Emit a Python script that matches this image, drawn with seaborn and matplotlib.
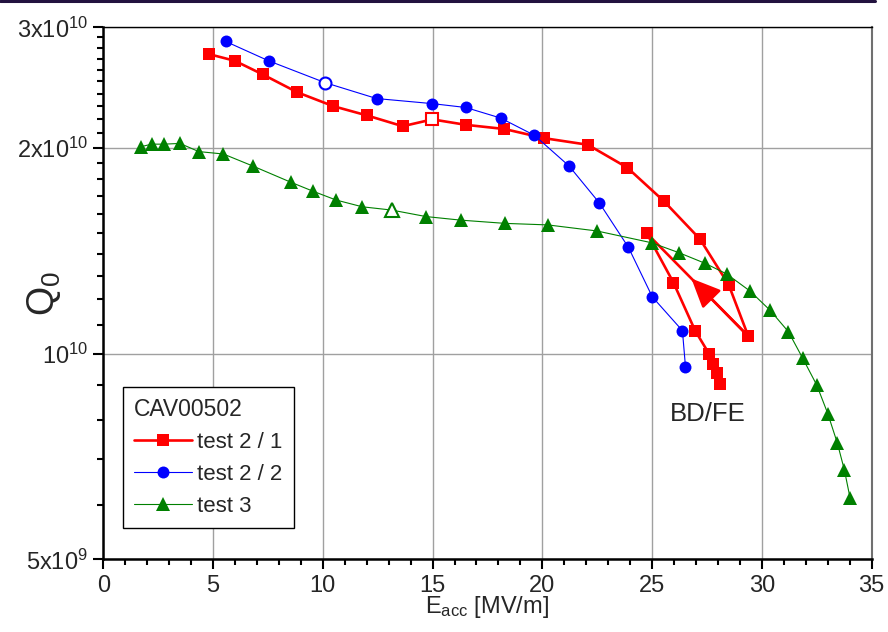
import numpy as np
import matplotlib
matplotlib.use('Agg')
import matplotlib.pyplot as plt
import matplotlib.ticker as mticker
from matplotlib.lines import Line2D
import seaborn as sns

# test 2 / 1 (red squares), open marker at index 7
e_21 = [4.83, 5.99, 7.26, 8.84, 10.48, 12.00, 13.64, 14.99, 16.52, 18.27, 20.09, 22.07,
        23.87, 25.54, 27.18, 28.49, 29.38, 24.75, 25.97, 26.96, 27.61, 27.76, 27.94, 28.10]
q_21 = [2.74e10, 2.68e10, 2.56e10, 2.41e10, 2.30e10, 2.23e10, 2.15e10, 2.20e10, 2.16e10,
        2.13e10, 2.065e10, 2.02e10, 1.87e10, 1.67e10, 1.47e10, 1.26e10, 1.06e10, 1.50e10,
        1.27e10, 1.08e10, 9.97e9, 9.64e9, 9.35e9, 9.01e9]
open_21 = 7
arrow_21 = (16, 17)  # segment carrying the direction arrow

# test 2 / 2 (blue circles), open marker at index 2
e_22 = [5.58, 7.53, 10.10, 12.45, 14.99, 16.51, 18.10, 19.64, 21.22, 22.60, 23.92, 25.01,
        26.38, 26.52]
q_22 = [2.86e10, 2.68e10, 2.49e10, 2.36e10, 2.32e10, 2.29e10, 2.21e10, 2.085e10, 1.88e10,
        1.66e10, 1.43e10, 1.21e10, 1.08e10, 9.56e9]
open_22 = 2

# test 3 (green triangles), open marker at index 11
e_3 = [1.70, 2.20, 2.78, 3.49, 4.35, 5.47, 6.80, 8.55, 9.54, 10.60, 11.80, 13.14, 14.70,
       16.28, 18.30, 20.25, 22.48, 24.98, 26.23, 27.41, 28.40, 29.46, 30.37, 31.21, 31.86,
       32.50, 33.00, 33.44, 33.76, 34.02]
q_3 = [2.006e10, 2.024e10, 2.024e10, 2.029e10, 1.974e10, 1.958e10, 1.881e10, 1.780e10,
       1.728e10, 1.677e10, 1.639e10, 1.621e10, 1.586e10, 1.567e10, 1.550e10, 1.542e10,
       1.511e10, 1.452e10, 1.404e10, 1.355e10, 1.307e10, 1.234e10, 1.157e10, 1.076e10,
       9.84e9, 8.99e9, 8.17e9, 7.39e9, 6.75e9, 6.14e9]
open_3 = 11

labels = ['test 2 / 1', 'test 2 / 2', 'test 3']
legend_title = 'CAV00502'
y_ticks = [5e9, 1e10, 2e10, 3e10]
y_ticklabels = [r'$\mathregular{5x10^9}$', r'$\mathregular{10^{10}}$',
                r'$\mathregular{2x10^{10}}$', r'$\mathregular{3x10^{10}}$']
x_ticks = [0, 5, 10, 15, 20, 25, 30, 35]

sns.set_style('ticks')
plt.rcParams['font.family'] = ['Liberation Sans', 'DejaVu Sans']
plt.rcParams['mathtext.fontset'] = 'custom'
plt.rcParams['mathtext.rm'] = 'Liberation Sans'
plt.rcParams['mathtext.it'] = 'Liberation Sans:italic'

fig = plt.figure(figsize=(8.88, 6.32), dpi=100)
ax = fig.add_axes([0.1163, 0.1150, 0.8653, 0.8418])

series = [
    (e_21, q_21, open_21, 'red', 's', 8.0, 1.9),
    (e_22, q_22, open_22, 'blue', 'o', 8.6, 0.8),
    (e_3, q_3, open_3, 'green', '^', 10.0, 0.8),
]
for (ex, qy, io, col, mk, ms, lw), lab in zip(series, labels):
    sns.lineplot(x=ex, y=qy, sort=False, estimator=None, color=col, lw=lw,
                 marker=mk, ms=ms, mec=col, mew=0, label=lab, ax=ax, zorder=3)
    ax.plot([ex[io]], [qy[io]], linestyle='none', marker=mk, ms=ms,
            mfc='white', mec=col, mew=1.5, zorder=4)

# direction arrow on the return branch of test 2 / 1
i0, i1 = arrow_21
frac = 0.56
ax0, ay0 = e_21[i0], np.log10(q_21[i0])
ax1, ay1 = e_21[i1], np.log10(q_21[i1])
tip = (ax0 + frac * (ax1 - ax0), 10 ** (ay0 + frac * (ay1 - ay0)))
ax.annotate('', xy=tip, xytext=(e_21[i0], q_21[i0]),
            arrowprops=dict(arrowstyle='-|>,head_length=0.9,head_width=0.4',
                            color='red', lw=1.9, mutation_scale=20,
                            shrinkA=0, shrinkB=0), zorder=3)

ax.text(25.8, 8.15e9, 'BD/FE', fontsize=18.5, ha='left', va='center')

ax.set_yscale('log')
ax.set_xlim(0, 35)
ax.set_ylim(5e9, 3e10)
ax.xaxis.set_major_locator(mticker.FixedLocator(x_ticks))
ax.xaxis.set_minor_locator(mticker.MultipleLocator(1))
ax.yaxis.set_major_locator(mticker.FixedLocator(y_ticks))
ax.yaxis.set_major_formatter(mticker.FixedFormatter(y_ticklabels))
ax.yaxis.set_minor_locator(mticker.MultipleLocator(1e9))
ax.yaxis.set_minor_formatter(mticker.NullFormatter())

ax.grid(True, which='major', color='#a0a0a0', lw=1.0)
ax.tick_params(which='major', direction='out', length=7, width=1.5, labelsize=17,
               color='black', pad=4)
ax.tick_params(which='minor', direction='out', length=4, width=1.5, color='black')
for side in ['left', 'bottom']:
    ax.spines[side].set_linewidth(1.8)
    ax.spines[side].set_color('black')
ax.spines['top'].set_linewidth(1.0)
ax.spines['top'].set_color('black')
ax.spines['right'].set_linewidth(1.5)
ax.spines['right'].set_color('#707070')

ax.set_xlabel(r'$\mathregular{E_{acc}}$ [MV/m]', fontsize=17, labelpad=-2)
ax.set_ylabel(r'$\mathregular{Q_0}$', fontsize=27)
ax.yaxis.set_label_coords(-0.052, 0.5)

handles, labs = ax.get_legend_handles_labels()
leg = ax.legend(handles, labs, title=legend_title, loc='lower left',
                bbox_to_anchor=(0.0252, 0.0583), borderaxespad=0,
                prop=dict(size=16), title_fontproperties=dict(size=16.5),
                fancybox=False, edgecolor='black', framealpha=1,
                handlelength=2.6, handletextpad=0.25, labelspacing=0.5,
                borderpad=0.5, alignment='left')
leg.get_frame().set_linewidth(1.0)

# dark rule along the top edge of the slide
fig.add_artist(Line2D([0, 0.985], [0.998, 0.998], transform=fig.transFigure,
                      color='#22123f', lw=2.2))

fig.savefig('out.png', dpi=100)
